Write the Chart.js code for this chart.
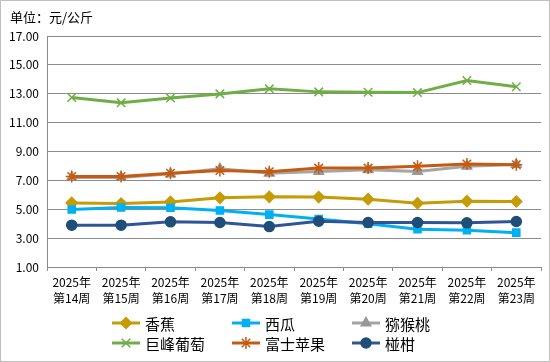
<!DOCTYPE html>
<html>
<head>
<meta charset="utf-8">
<script src="https://cdn.jsdelivr.net/npm/chart.js"></script>
<style>
  html, body { margin: 0; padding: 0; background: #fff; }
  #wrap { width: 548px; height: 360px; border: 1px solid #bfbfbf; position: relative; }
  #wrap canvas { position: absolute; left: -1px; top: -1px; }
</style>
</head>
<body>
<div id="wrap"><canvas id="grafico" width="550" height="362"></canvas></div>
<script>
const semanas = ["第14周", "第15周", "第16周", "第17周", "第18周", "第19周", "第20周", "第21周", "第22周", "第23周"];
const xianggjiao = [5.44, 5.40, 5.51, 5.79, 5.86, 5.84, 5.70, 5.42, 5.56, 5.54];
const xigua = [4.98, 5.12, 5.11, 4.91, 4.63, 4.33, 4.00, 3.62, 3.55, 3.38];
const mihoutao = [7.20, 7.20, 7.45, 7.80, 7.50, 7.62, 7.74, 7.62, 7.97, 8.10];
const jufeng = [12.74, 12.37, 12.71, 12.99, 13.34, 13.13, 13.10, 13.08, 13.92, 13.48];
const fushi = [7.27, 7.27, 7.50, 7.69, 7.60, 7.85, 7.85, 7.97, 8.13, 8.08];
const pengan = [3.90, 3.90, 4.13, 4.08, 3.80, 4.17, 4.08, 4.08, 4.06, 4.15];
const yTicks = [1, 3, 5, 7, 9, 11, 13, 15, 17];

const cjk = "'Noto Sans CJK SC', 'Noto Sans', sans-serif";

function serie(label, data, color, marker, style, radius, order) {
  return {
    label: label, data: data, borderColor: color, backgroundColor: marker,
    pointBackgroundColor: marker, pointBorderColor: marker, pointBorderWidth: 1.5,
    pointStyle: style, pointRadius: radius, borderWidth: 3, tension: 0, order: order
  };
}

const datasets = [
  serie("香蕉", xianggjiao, "#C59B06", "#C59B06", "rectRot", 5.5, 6),
  serie("西瓜", xigua, "#00B0F0", "#00B0F0", "rect", 5, 5),
  serie("猕猴桃", mihoutao, "#A5A5A5", "#999999", "triangle", 5.5, 4),
  serie("巨峰葡萄", jufeng, "#70AD47", "#70AD47", "crossRot", 6, 3),
  serie("富士苹果", fushi, "#C55A11", "#C55A11", "star", 6, 2),
  serie("椪柑", pengan, "#2F5597", "#1F4E79", "circle", 5, 1)
];

const leyenda = {
  id: "leyenda",
  afterDraw(chart) {
    const ctx = chart.ctx;
    ctx.save();
    ctx.fillStyle = "#000";
    ctx.font = "13px " + cjk;
    ctx.textBaseline = "middle";
    ctx.textAlign = "left";
    ctx.fillText("单位：元/公斤", 10, 17);
    ctx.font = "15px " + cjk;
    chart.data.datasets.forEach((ds, i) => {
      const x = 112 + (i % 3) * 120;
      const y = 323 + Math.floor(i / 3) * 20;
      ctx.strokeStyle = ds.borderColor;
      ctx.lineWidth = 3;
      ctx.beginPath();
      ctx.moveTo(x, y);
      ctx.lineTo(x + 28, y);
      ctx.stroke();
      ctx.fillStyle = ds.pointBackgroundColor;
      ctx.strokeStyle = ds.pointBorderColor;
      ctx.lineWidth = 1.5;
      Chart.helpers.drawPoint(ctx, {pointStyle: ds.pointStyle, radius: ds.pointRadius, borderWidth: 1.5, rotation: 0}, x + 14, y);
      ctx.fillStyle = "#000";
      ctx.fillText(ds.label, x + 33, y + 1);
    });
    ctx.restore();
  }
};

new Chart(document.getElementById("grafico").getContext("2d"), {
  type: "line",
  data: { labels: semanas.map(s => ["2025年", s]), datasets: datasets },
  options: {
    responsive: false,
    animation: false,
    layout: { padding: { left: 0, right: 9, top: 36, bottom: 0 } },
    plugins: { legend: { display: false }, tooltip: { enabled: false }, title: { display: false } },
    scales: {
      x: {
        offset: true,
        grid: { offset: true, drawOnChartArea: false, drawTicks: true, tickLength: 4, color: "#8c8c8c" },
        border: { color: "#8c8c8c", width: 1 },
        ticks: { color: "#000", font: { family: cjk, size: 12, lineHeight: 1.35 }, padding: 3, maxRotation: 0, autoSkip: false },
        afterFit(scale) { scale.height = 95; }
      },
      y: {
        min: 1, max: 17,
        afterBuildTicks(scale) { scale.ticks = yTicks.map(v => ({ value: v })); },
        grid: { color: "#8c8c8c", drawTicks: false },
        border: { color: "#8c8c8c", width: 1 },
        ticks: { color: "#000", font: { family: cjk, size: 12 }, padding: 8, callback: v => Number(v).toFixed(2) },
        afterFit(scale) { scale.width = 47; }
      }
    }
  },
  plugins: [leyenda]
});
</script>
</body>
</html>
